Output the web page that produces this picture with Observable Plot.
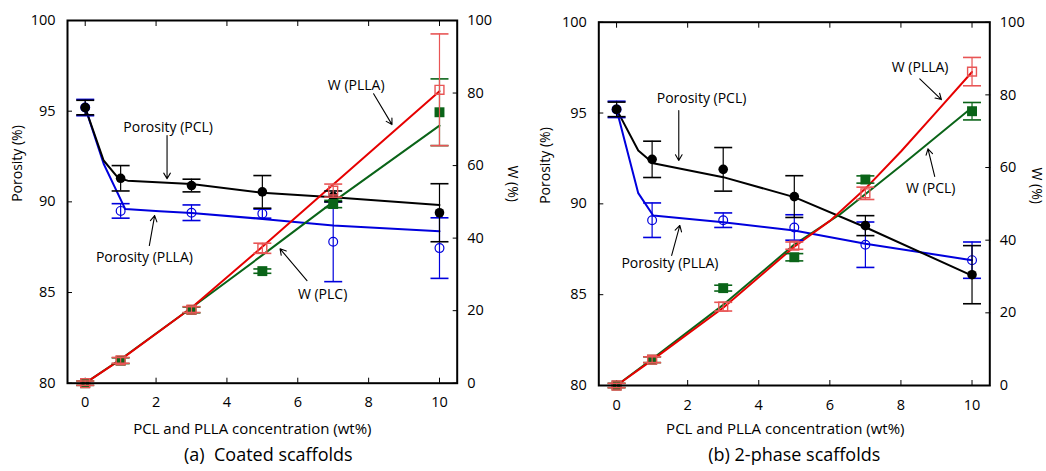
<!DOCTYPE html>
<html>
<head>
<meta charset="utf-8">
<script src="https://cdn.jsdelivr.net/npm/d3@7"></script>
<script src="https://cdn.jsdelivr.net/npm/@observablehq/plot@0.6"></script>
<style>
  html, body { margin: 0; padding: 0; background: #fff; }
  #wrap { display: flex; width: 1046px; height: 471px; font-family: "Open Sans", sans-serif; }
  #wrap svg { display: block; }
</style>
</head>
<body>
<div id="wrap"><div id="a"></div><div id="b"></div></div>
<script>
// ---------- data ----------
const conc = [0, 1, 3, 5, 7, 10];
const xTicks = [0, 2, 4, 6, 8, 10];
const porTicks = [80, 85, 90, 95, 100];
const wTicks = [0, 20, 40, 60, 80, 100];

// (a) Coated scaffolds
const coatedPorPCL = [95.2, 91.3, 90.9, 90.55, 90.3, 89.4];
const coatedPorPCLErr = [0.4, 0.7, 0.35, 0.9, 0.3, 1.6];
const coatedPorPLLA = [95.2, 89.5, 89.4, 89.35, 87.8, 87.45];
const coatedPorPLLAErr = [0.45, 0.4, 0.43, 0.25, 2.2, 1.67];
const coatedWPLLA = [0, 6.3, 20.3, 37.2, 53.1, 80.9];
const coatedWPLLAErr = [0.6, 0.8, 0.8, 1.4, 1.8, 15.4];
const coatedWPCL = [0, 6.2, 20.2, 30.9, 49.4, 74.7];
const coatedWPCLErr = [0.6, 0.8, 0.8, 0.6, 1.0, 9.2];
// fitted curves (a)
const coatedFitPCLx = [0, 0.52, 0.94, 1.2, 3, 5, 7, 10];
const coatedFitPCLy = [95.2, 92.28, 91.3, 91.17, 90.98, 90.5, 90.25, 89.83];
const coatedFitPLLAx = [0, 0.52, 1.13, 2.1, 3, 5, 7, 10];
const coatedFitPLLAy = [95.2, 92.1, 89.6, 89.48, 89.38, 89.06, 88.69, 88.38];
const coatedFitWPLLAx = [0, 1, 3, 5, 7, 10];
const coatedFitWPLLAy = [0, 6.5, 20.8, 37.6, 54.8, 80.5];
const coatedFitWPCLx = [0, 1, 3, 5, 7, 10];
const coatedFitWPCLy = [0, 6.6, 20.8, 35.3, 50.0, 71.0];
// annotations (a): label position and arrow (in concentration / porosity units)
const coatedLabels = ["Porosity (PCL)", "Porosity (PLLA)", "W (PLC)", "W (PLLA)"];
const coatedLabelX = [2.34, 1.67, 6.70, 7.65];
const coatedLabelY = [94.1, 86.94, 84.89, 96.41];
const coatedArrowX1 = [2.31, 1.81, 6.26, 8.14];
const coatedArrowY1 = [93.66, 87.59, 85.66, 95.96];
const coatedArrowX2 = [2.31, 1.96, 5.50, 8.66];
const coatedArrowY2 = [91.27, 89.24, 87.41, 94.26];

// (b) 2-phase scaffolds
const twoPorPCL = [95.2, 92.45, 91.9, 90.4, 88.8, 86.1];
const twoPorPCLErr = [0.4, 1.0, 1.2, 1.15, 0.55, 1.6];
const twoPorPLLA = [95.2, 89.1, 89.1, 88.7, 87.75, 86.9];
const twoPorPLLAErr = [0.45, 0.95, 0.4, 0.7, 1.25, 1.0];
const twoWPLLA = [0, 7.1, 21.7, 38.5, 52.9, 86.4];
const twoWPLLAErr = [0.6, 0.8, 1.2, 1.0, 1.7, 3.9];
const twoWPCL = [0, 7.1, 26.8, 35.3, 56.7, 75.5];
const twoWPCLErr = [0.6, 0.8, 0.8, 1.0, 1.0, 2.4];
const twoFitPCLx = [0, 0.61, 1.03, 3, 5, 7, 10];
const twoFitPCLy = [95.2, 92.94, 92.24, 91.47, 90.37, 88.71, 86.05];
const twoFitPLLAx = [0, 0.61, 1.03, 3, 5, 7, 10];
const twoFitPLLAy = [95.2, 90.59, 89.36, 88.99, 88.53, 87.8, 86.9];
const twoFitWPLLAx = [0, 1, 3, 5, 6, 7, 8, 9, 10];
const twoFitWPLLAy = [0, 7.0, 21.4, 38.2, 45.3, 54.2, 64.4, 75.3, 86.3];
const twoFitWPCLx = [0, 1, 3, 5, 6.3, 8, 10];
const twoFitWPCLy = [0, 7.3, 22.2, 38.8, 47.2, 60.5, 76.5];
const twoLabels = ["Porosity (PCL)", "Porosity (PLLA)", "W (PLLA)", "W (PCL)"];
const twoLabelX = [2.39, 1.50, 8.54, 8.84];
const twoLabelY = [95.78, 86.70, 97.52, 90.86];
const twoArrowX1 = [1.75, 1.55, 8.53, 8.95];
const twoArrowY1 = [95.14, 87.16, 96.88, 91.51];
const twoArrowX2 = [1.75, 1.78, 9.14, 8.76];
const twoArrowY2 = [92.39, 88.81, 95.74, 93.03];

// ---------- helpers ----------
const toPor = w => 80 + w / 5;           // map W (%) onto the porosity axis
const rows = (ys, errs, f = v => v) => conc.map((x, i) => ({x, y: f(ys[i]), lo: f(ys[i] - errs[i]), hi: f(ys[i] + errs[i])}));
const fit = (xs, ys, f = v => v) => xs.map((x, i) => ({x, y: f(ys[i])}));
const capSymbol = {draw(ctx, size) { const w = Math.sqrt(size / Math.PI); ctx.moveTo(-w, 0); ctx.lineTo(w, 0); }};

const BLACK = "#000", BLUE = "#0000dd", RED = "#e60000", REDL = "#e85555", GREEN = "#0a6418";

function errMarks(data, color, w = 1.2) {
  return [
    Plot.ruleX(data, {x: "x", y1: "lo", y2: "hi", stroke: color, strokeWidth: w}),
    Plot.dot(data, {x: "x", y: "lo", symbol: capSymbol, r: 9, stroke: color, strokeWidth: 1.6}),
    Plot.dot(data, {x: "x", y: "hi", symbol: capSymbol, r: 9, stroke: color, strokeWidth: 1.6})
  ];
}

function panel(o) {
  const pPCL = rows(o.porPCL, o.porPCLErr);
  const pPLLA = rows(o.porPLLA, o.porPLLAErr);
  const wPLLA = rows(o.wPLLA, o.wPLLAErr, toPor);
  const wPCL = rows(o.wPCL, o.wPCLErr, toPor);
  const ann = o.labels.map((t, i) => ({t, x: o.lx[i], y: o.ly[i], x1: o.ax1[i], y1: o.ay1[i], x2: o.ax2[i], y2: o.ay2[i]}));
  const font = 14.5;
  return Plot.plot({
    width: 523, height: 471,
    marginLeft: o.ml, marginRight: o.mr, marginTop: o.mt, marginBottom: o.mb,
    style: {fontFamily: "'Open Sans', sans-serif", fontSize: "14px", color: "#000", background: "#fff"},
    x: {domain: [-0.5, 10.5]},
    y: {domain: [80, 100]},
    marks: [
      Plot.axisX({anchor: "bottom", ticks: xTicks, tickSize: -5, tickPadding: 19, label: null, fontSize: font}),
      Plot.axisX({anchor: "top", ticks: xTicks, tickSize: -5, tickFormat: () => "", label: null}),
      Plot.axisY({anchor: "left", ticks: porTicks, tickSize: -5, tickPadding: 17, label: null, fontSize: font}),
      Plot.axisY({anchor: "right", ticks: wTicks.map(toPor), tickFormat: d => Math.round((d - 80) * 5), tickSize: -5, tickPadding: 15, label: null, fontSize: font}),
      // fitted curves
      Plot.line(fit(o.fitPLLAx, o.fitPLLAy), {x: "x", y: "y", stroke: BLUE, strokeWidth: 2}),
      Plot.line(fit(o.fitPCLx, o.fitPCLy), {x: "x", y: "y", stroke: BLACK, strokeWidth: 2}),
      Plot.line(fit(o.fitWPCLx, o.fitWPCLy, toPor), {x: "x", y: "y", stroke: GREEN, strokeWidth: 2}),
      Plot.line(fit(o.fitWPLLAx, o.fitWPLLAy, toPor), {x: "x", y: "y", stroke: RED, strokeWidth: 2}),
      // porosity series
      ...errMarks(pPLLA, BLUE),
      Plot.dot(pPLLA, {x: "x", y: "y", r: 4.4, stroke: BLUE, fill: "none", strokeWidth: 1.2}),
      ...errMarks(pPCL, BLACK),
      Plot.dot(pPCL, {x: "x", y: "y", r: 4.8, fill: BLACK}),
      // W series
      ...errMarks(wPCL, GREEN),
      Plot.dot(wPCL, {x: "x", y: "y", symbol: "square", r: 5.6, fill: GREEN}),
      ...errMarks(wPLLA, REDL),
      Plot.dot(wPLLA, {x: "x", y: "y", symbol: "square", r: 5.0, stroke: REDL, fill: "none", strokeWidth: 1.4}),
      // annotations
      Plot.arrow(ann, {x1: "x1", y1: "y1", x2: "x2", y2: "y2", stroke: "#000", strokeWidth: 1.1, headLength: 9}),
      Plot.text(ann, {x: "x", y: "y", text: "t", fontSize: 14, fill: "#000"}),
      // axis titles and caption
      Plot.text(["Porosity (%)"], {frameAnchor: "left", text: d => d, rotate: -90, dx: -o.ylo, fontSize: 14}),
      Plot.text(["W (%)"], {frameAnchor: "right", text: d => d, rotate: 90, dx: o.yro, fontSize: 14}),
      Plot.text(["PCL and PLLA concentration (wt%)"], {frameAnchor: "bottom", text: d => d, dy: o.xly, dx: o.xlx, fontSize: 15}),
      Plot.text([o.caption], {frameAnchor: "bottom", text: d => d, dy: o.capy, dx: o.capx, fontSize: 18}),
      Plot.frame({stroke: "#000", strokeWidth: 2})
    ]
  });
}

document.getElementById("a").append(panel({
  porPCL: coatedPorPCL, porPCLErr: coatedPorPCLErr, porPLLA: coatedPorPLLA, porPLLAErr: coatedPorPLLAErr,
  wPLLA: coatedWPLLA, wPLLAErr: coatedWPLLAErr, wPCL: coatedWPCL, wPCLErr: coatedWPCLErr,
  fitPCLx: coatedFitPCLx, fitPCLy: coatedFitPCLy, fitPLLAx: coatedFitPLLAx, fitPLLAy: coatedFitPLLAy,
  fitWPLLAx: coatedFitWPLLAx, fitWPLLAy: coatedFitWPLLAy, fitWPCLx: coatedFitWPCLx, fitWPCLy: coatedFitWPCLy,
  labels: coatedLabels, lx: coatedLabelX, ly: coatedLabelY, ax1: coatedArrowX1, ay1: coatedArrowY1, ax2: coatedArrowX2, ay2: coatedArrowY2,
  caption: "(a)  Coated scaffolds",
  ml: 67, mr: 66.3, mt: 20, mb: 88.3, ylo: 50, yro: 55, xlx: -10, xly: 51, capx: 6, capy: 78
}));
document.getElementById("b").append(panel({
  porPCL: twoPorPCL, porPCLErr: twoPorPCLErr, porPLLA: twoPorPLLA, porPLLAErr: twoPorPLLAErr,
  wPLLA: twoWPLLA, wPLLAErr: twoWPLLAErr, wPCL: twoWPCL, wPCLErr: twoWPCLErr,
  fitPCLx: twoFitPCLx, fitPCLy: twoFitPCLy, fitPLLAx: twoFitPLLAx, fitPLLAy: twoFitPLLAy,
  fitWPLLAx: twoFitWPLLAx, fitWPLLAy: twoFitWPLLAy, fitWPCLx: twoFitWPCLx, fitWPCLy: twoFitWPCLy,
  labels: twoLabels, lx: twoLabelX, ly: twoLabelY, ax1: twoArrowX1, ay1: twoArrowY1, ax2: twoArrowX2, ay2: twoArrowY2,
  caption: "(b) 2-phase scaffolds",
  ml: 75.3, mr: 56.7, mt: 21.7, mb: 86, ylo: 53, yro: 47, xlx: -9, xly: 48.5, capx: 0, capy: 75.5
}));
</script>
</body>
</html>
